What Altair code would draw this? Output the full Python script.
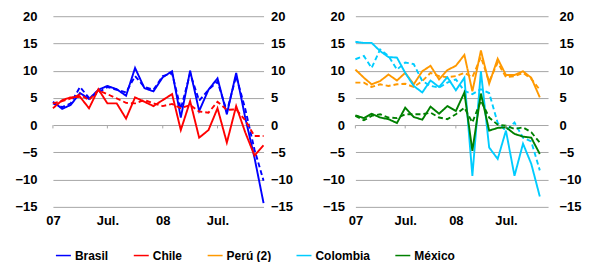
import altair as alt
import pandas as pd

fechas = [d.strftime("%Y-%m-%dT00:00:00") for d in pd.date_range("2007-01-01", periods=24, freq="MS")]

paises = ["Brasil", "Chile", "Perú (2)", "Colombia", "México"]
colores = ["#0000FF", "#FF0000", "#FF9900", "#00CCFF", "#008000"]

brasil_obs = [4.3, 3.0, 3.7, 5.9, 4.8, 6.5, 7.2, 6.6, 5.4, 10.5, 6.8, 6.2, 8.8, 9.9, 1.4, 10.0, 2.6, 6.5, 8.6, 2.0, 9.6, 1.4, -6.0, -14.3]
brasil_tend = [4.0, 3.3, 4.0, 7.0, 5.0, 6.0, 7.0, 6.5, 6.0, 9.0, 7.0, 6.5, 9.0, 9.5, 3.0, 9.5, 4.5, 6.5, 8.0, 2.5, 9.0, 3.0, -4.5, -10.2]
chile_obs = [3.1, 4.6, 5.1, 5.2, 3.1, 6.6, 4.0, 4.0, 1.2, 5.1, 4.3, 3.5, 4.6, 5.7, -0.9, 4.4, -2.3, -0.9, 3.1, -3.2, 3.5, -1.3, -5.6, -3.7]
chile_tend = [4.0, 4.4, 4.9, 5.6, 4.6, 6.4, 5.7, 4.9, 4.1, 4.0, 4.6, 4.0, 3.5, 3.9, 3.1, 3.7, 2.5, 2.3, 4.3, 2.8, 2.9, 0.9, -2.0, -2.0]

peru_obs = [10.2, 8.7, 7.5, 8.1, 9.3, 8.2, 9.6, 7.5, 9.9, 10.9, 8.4, 10.1, 10.9, 12.9, 6.2, 13.7, 7.6, 12.2, 9.2, 9.2, 9.9, 8.7, 5.1]
peru_tend = [7.8, 7.8, 7.0, 7.5, 7.2, 7.5, 7.6, 7.0, 8.1, 9.6, 9.0, 8.8, 9.0, 9.6, 8.8, 12.5, 8.0, 11.5, 8.8, 9.0, 9.6, 8.5, 6.5]
colombia_obs = [15.3, 15.1, 15.1, 13.6, 12.5, 12.4, 9.6, 7.2, 6.0, 8.2, 7.0, 8.8, 6.4, 8.7, -9.3, 9.9, -4.1, -6.2, -1.0, -9.3, -3.4, -7.1, -13.1]
colombia_tend = [12.1, 12.7, 10.5, 13.9, 12.7, 10.2, 11.5, 11.2, 8.1, 7.2, 6.9, 7.8, 8.4, 6.3, 5.7, 6.6, 5.9, 0.4, -1.0, 0.5, -2.3, -3.0, -8.3]
mexico_obs = [1.8, 1.3, 2.1, 1.4, 1.1, 0.4, 3.2, 1.5, 1.0, 3.4, 2.1, 3.5, 2.6, 6.0, -4.7, 5.8, -1.0, -0.5, -0.4, -1.6, -2.1, -2.3, -5.3]
mexico_tend = [1.7, 0.9, 1.7, 2.0, 1.4, 1.3, 2.0, 2.0, 2.0, 2.3, 1.4, 1.1, 2.0, 3.2, 0.5, 4.5, 1.4, 0.1, -0.1, -0.7, -0.4, -1.3, -3.2]

y_ticks = [-15, -10, -5, 0, 5, 10, 15, 20]
FONT = "Liberation Sans"


def tabla(series):
    rows = []
    for pais, obs, tend in series:
        for serie, vals in (("obs", obs), ("tend", tend)):
            for i, v in enumerate(vals):
                rows.append({"fecha": fechas[i], "pais": pais, "serie": serie,
                             "clave": pais + serie, "valor": v})
    return pd.DataFrame(rows)


x_vals = [alt.DateTime(year=2007, month=1, date=1), alt.DateTime(year=2007, month=7, date=1),
          alt.DateTime(year=2008, month=1, date=1), alt.DateTime(year=2008, month=7, date=1)]
tick_df = pd.DataFrame({"fecha": ["2007-01-01T00:00:00", "2007-07-01T00:00:00",
                                  "2008-01-01T00:00:00", "2008-07-01T00:00:00"]})

x_scale = alt.Scale(domain=[alt.DateTime(year=2007, month=1, date=1),
                            alt.DateTime(year=2008, month=12, date=1)])
y_scale = alt.Scale(domain=[-15, 20], nice=False, zero=False)


def panel(df, width, pad_left, pad_right):
    x = alt.X("fecha:T", scale=x_scale, title=None,
              axis=alt.Axis(values=x_vals, grid=False, ticks=False, domain=False,
                            labelExpr="month(datum.value) == 0 ? timeFormat(datum.value, '%y') : 'Jul.'",
                            labelFlush=False, labelPadding=8, labelFont=FONT,
                            labelFontWeight="bold", labelFontSize=13, labelColor="black"))
    lines = alt.Chart(df).mark_line(strokeWidth=1.9).encode(
        x=x,
        y=alt.Y("valor:Q", scale=y_scale, title=None,
                axis=alt.Axis(values=y_ticks, grid=True, gridColor="#A6A6A6", gridWidth=1,
                              ticks=False, domain=False, labelPadding=pad_left,
                              labelFont=FONT, labelFontWeight="bold", labelFontSize=13,
                              labelColor="black")),
        color=alt.Color("pais:N", scale=alt.Scale(domain=paises, range=colores),
                        legend=alt.Legend(orient="none", legendX=2, legendY=231,
                                          direction="horizontal", title=None,
                                          symbolType="stroke", symbolSize=225,
                                          symbolStrokeWidth=1.5, labelFont=FONT,
                                          labelFontWeight="bold", labelFontSize=12,
                                          labelColor="black", columnPadding=22,
                                          labelOffset=3)),
        strokeDash=alt.StrokeDash("serie:N", scale=alt.Scale(domain=["obs", "tend"],
                                                             range=[[1, 0], [5, 3]]),
                                  legend=None),
        detail="clave:N",
        order=alt.Order("fecha:T"),
    )
    right_axis = alt.Chart(df).mark_point(opacity=0).encode(
        x=x,
        y=alt.Y("valor:Q", scale=y_scale, title=None,
                axis=alt.Axis(orient="right", values=y_ticks, grid=False, ticks=False,
                              domain=False, labelPadding=pad_right, labelFont=FONT,
                              labelFontWeight="bold", labelFontSize=13, labelColor="black")),
    )
    marks = alt.Chart(tick_df).mark_rule(color="#A6A6A6", strokeWidth=1).encode(
        x=x,
        y=alt.Y("a:Q", scale=y_scale, axis=None),
        y2="b:Q",
    ).transform_calculate(a="0", b="-0.6")
    return alt.layer(lines, marks, right_axis).resolve_scale(y="independent").properties(
        width=width, height=191)


izq = panel(tabla([("Brasil", brasil_obs, brasil_tend), ("Chile", chile_obs, chile_tend)]),
            211, 16, 7)
der = panel(tabla([("Perú (2)", peru_obs, peru_tend), ("Colombia", colombia_obs, colombia_tend),
                   ("México", mexico_obs, mexico_tend)]), 193, 11, 11)

chart = alt.hconcat(izq, der, spacing=28).resolve_scale(color="shared").configure_view(
    stroke=None).properties(padding={"left": 6, "top": 2, "right": 0, "bottom": 0})

chart.save("out.html", embed_options={"renderer": "svg", "actions": False})
